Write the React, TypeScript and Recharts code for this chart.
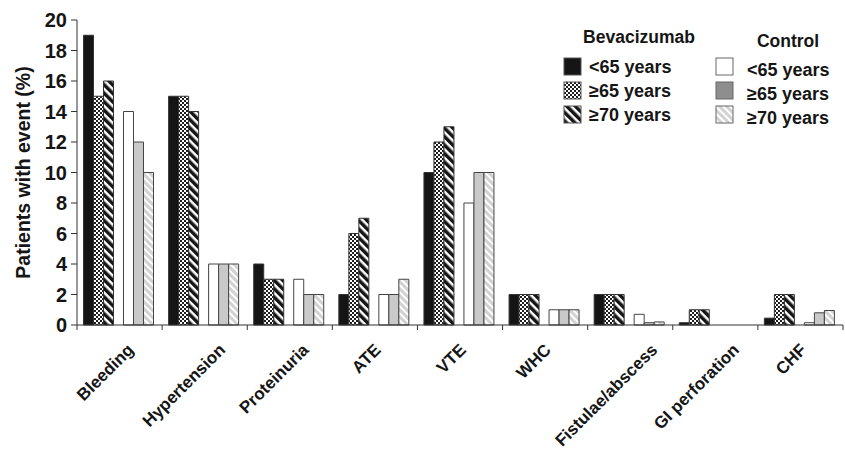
import { Bar, BarChart, Label, XAxis, YAxis } from "recharts";

const categories = ["Bleeding", "Hypertension", "Proteinuria", "ATE", "VTE", "WHC", "Fistulae/abscess", "GI perforation", "CHF"];
const bevUnder65 = [19, 15, 4, 2, 10, 2, 2, 0.15, 0.45];
const bev65 = [15, 15, 3, 6, 12, 2, 2, 1, 2];
const bev70 = [16, 14, 3, 7, 13, 2, 2, 1, 2];
const ctlUnder65 = [14, 4, 3, 2, 8, 1, 0.7, 0, 0.15];
const ctl65 = [12, 4, 2, 2, 10, 1, 0.15, 0, 0.8];
const ctl70 = [10, 4, 2, 3, 10, 1, 0.2, 0, 0.95];
const yTicks = [0, 2, 4, 6, 8, 10, 12, 14, 16, 18, 20];
const ageLabels = ["<65 years", "\u226565 years", "\u226570 years"];

const data = categories.map((name, i) => ({
  name,
  bevUnder65: bevUnder65[i],
  bev65: bev65[i],
  bev70: bev70[i],
  ctlUnder65: ctlUnder65[i],
  ctl65: ctl65[i],
  ctl70: ctl70[i],
}));

const W = 845;
const H = 451;
const MARGIN = { top: 20, right: 2, bottom: 6, left: 0 };
const Y_W = 77;
const BAND = (W - Y_W - MARGIN.right) / categories.length;

const FONT = "Liberation Sans, Arial, Helvetica, sans-serif";
const INK = "#151515";
const EDGE = "#333";

function Patterns({ p }: { p: string }) {
  return (
    <defs>
      <pattern id={`${p}-check`} width="4" height="4" patternUnits="userSpaceOnUse">
        <rect width="4" height="4" fill="#fff" />
        <rect width="2" height="2" fill="#1e1e1e" />
        <rect x="2" y="2" width="2" height="2" fill="#1e1e1e" />
      </pattern>
      <pattern id={`${p}-stripe`} width="6" height="6" patternUnits="userSpaceOnUse" patternTransform="rotate(-45)">
        <rect width="6" height="6" fill="#fff" />
        <rect width="3.5" height="6" fill="#151515" />
      </pattern>
      <pattern id={`${p}-light`} width="5" height="5" patternUnits="userSpaceOnUse" patternTransform="rotate(-45)">
        <rect width="5" height="5" fill="#d2d2d2" />
        <rect width="2" height="5" fill="#fff" />
      </pattern>
    </defs>
  );
}

// y arrives 8px below the axis (default tickSize 6 + tickMargin 2);
// labels sit right of the band centre, longer ones a little further
function renderCategoryTick(props: any) {
  const { x, y, payload, index } = props;
  const label = String(payload.value);
  const base = y - 8;
  const dx = 2 + 0.19 * label.length * 8.6;
  const left = x - BAND / 2;
  return (
    <g>
      <rect x={left - 0.5} y={base} width={1} height={5} fill={EDGE} />
      {index === categories.length - 1 && <rect x={left + BAND - 0.5} y={base} width={1} height={5} fill={EDGE} />}
      <text x={0} y={0} transform={`translate(${x + dx},${base + 26}) rotate(-45)`} textAnchor="end" fontSize={17} fill={INK}>
        {label}
      </text>
    </g>
  );
}

function YTitle(props: any) {
  const vb = props.viewBox;
  const cx = vb.x + 23;
  const cy = vb.y + vb.height / 2;
  return (
    <text x={0} y={0} transform={`translate(${cx},${cy}) rotate(-90)`} textAnchor="middle" dominantBaseline="central" fontSize={19.5} fill={INK}>
      Patients with event (%)
    </text>
  );
}

function Legend() {
  const bevFills = ["#151515", "url(#lg-check)", "url(#lg-stripe)"];
  const ctlFills = ["#fff", "#8e8e8e", "url(#lg-light)"];
  const rows = [0, 1, 2];
  return (
    <svg width={300} height={140} style={{ position: "absolute", left: 545, top: 0, pointerEvents: "none" }}>
      <Patterns p="lg" />
      <g transform="translate(-545,0)" fill={INK}>
        <text x={639} y={43} fontSize={17.5} textAnchor="middle">Bevacizumab</text>
        {rows.map((i) => (
          <g key={`b${i}`}>
            <rect x={564} y={58 + i * 24} width={17} height={17} fill={bevFills[i]} stroke="#555" strokeWidth={1} />
            <text x={589} y={73 + i * 24} fontSize={18}>{ageLabels[i]}</text>
          </g>
        ))}
        <text x={788} y={47} fontSize={17.5} textAnchor="middle">Control</text>
        {rows.map((i) => (
          <g key={`c${i}`}>
            <rect x={716} y={58 + i * 24} width={17} height={17} fill={ctlFills[i]} stroke="#666" strokeWidth={1} />
            <text x={747} y={76 + i * 24} fontSize={18}>{ageLabels[i]}</text>
          </g>
        ))}
      </g>
    </svg>
  );
}

export default function App() {
  return (
    <div style={{ position: "absolute", left: 0, top: 0, width: W, height: H, background: "#fff", fontFamily: FONT, fontWeight: "bold" }}>
      <BarChart width={W} height={H} data={data} margin={MARGIN} barCategoryGap={6.5} barGap={0}>
        <Patterns p="ch" />
        <XAxis
          dataKey="name"
          interval={0}
          height={120}
          axisLine={{ stroke: EDGE, strokeWidth: 1 }}
          tickLine={{ stroke: "none" }}
          tick={renderCategoryTick}
        />
        <YAxis
          width={Y_W}
          domain={[0, 20]}
          ticks={yTicks}
          interval={0}
          tickSize={6}
          tickMargin={4}
          axisLine={{ stroke: EDGE }}
          tickLine={{ stroke: EDGE }}
          tick={{ fontSize: 20, fill: INK }}
        >
          <Label content={<YTitle />} />
        </YAxis>
        <Bar dataKey="bevUnder65" fill="#151515" stroke="#333" strokeWidth={1} isAnimationActive={false} />
        <Bar dataKey="bev65" fill="url(#ch-check)" stroke="#333" strokeWidth={1} isAnimationActive={false} />
        <Bar dataKey="bev70" fill="url(#ch-stripe)" stroke="#333" strokeWidth={1} isAnimationActive={false} />
        <Bar dataKey="spacer" fill="none" legendType="none" isAnimationActive={false} />
        <Bar dataKey="ctlUnder65" fill="#fff" stroke="#444" strokeWidth={1} isAnimationActive={false} />
        <Bar dataKey="ctl65" fill="#c9c9c9" stroke="#444" strokeWidth={1} isAnimationActive={false} />
        <Bar dataKey="ctl70" fill="url(#ch-light)" stroke="#444" strokeWidth={1} isAnimationActive={false} />
      </BarChart>
      <Legend />
    </div>
  );
}
